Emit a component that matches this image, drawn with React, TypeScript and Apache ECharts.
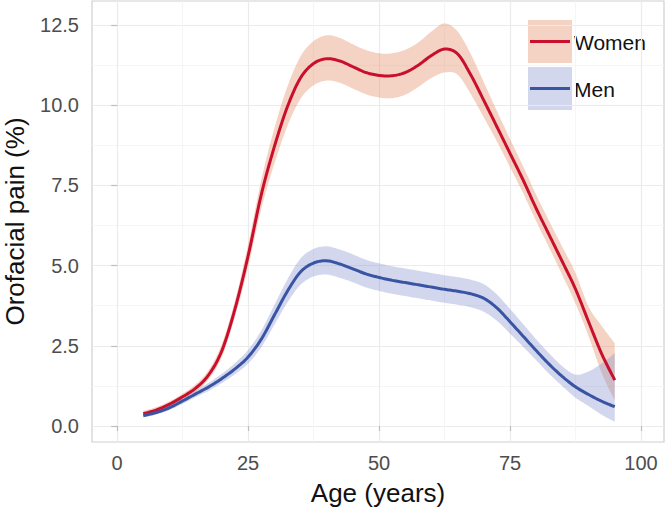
import React, { useEffect, useRef } from "react";
import * as echarts from "echarts";

const ages = [5, 7.5, 10, 12.5, 15, 17.5, 20, 22.5, 25, 27.5, 30, 32.5, 35, 37.5, 40, 42.5, 45, 47.5, 50, 52.5, 55, 57.5, 60, 62.5, 65, 67.5, 70, 72.5, 75, 77.5, 80, 82.5, 85, 87.5, 90, 92.5, 95];

const womenMean = [0.38, 0.5, 0.68, 0.91, 1.18, 1.6, 2.35, 3.65, 5.3, 7.2, 8.7, 9.95, 10.85, 11.3, 11.45, 11.38, 11.2, 11.02, 10.93, 10.92, 11.02, 11.25, 11.55, 11.75, 11.6, 10.95, 10.15, 9.33, 8.5, 7.67, 6.78, 5.95, 5.12, 4.27, 3.25, 2.25, 1.43];
const womenLower = [0.31, 0.42, 0.6, 0.82, 1.07, 1.46, 2.16, 3.41, 4.96, 6.76, 8.17, 9.35, 10.2, 10.62, 10.77, 10.7, 10.52, 10.34, 10.24, 10.22, 10.33, 10.57, 10.85, 11.02, 10.95, 10.35, 9.62, 8.87, 8.07, 7.26, 6.38, 5.55, 4.7, 3.82, 2.8, 1.65, 0.79];
const womenUpper = [0.47, 0.59, 0.77, 1.01, 1.3, 1.75, 2.56, 3.91, 5.66, 7.66, 9.27, 10.58, 11.52, 12.0, 12.18, 12.1, 11.9, 11.72, 11.62, 11.62, 11.73, 11.96, 12.3, 12.55, 12.3, 11.6, 10.72, 9.82, 8.95, 8.1, 7.21, 6.38, 5.58, 4.77, 3.72, 3.12, 2.58];

const menMean = [0.32, 0.42, 0.57, 0.78, 1.0, 1.22, 1.48, 1.78, 2.15, 2.7, 3.45, 4.2, 4.8, 5.08, 5.15, 5.05, 4.9, 4.74, 4.63, 4.54, 4.47, 4.4, 4.33, 4.26, 4.2, 4.12, 3.98, 3.68, 3.25, 2.8, 2.35, 1.92, 1.54, 1.22, 0.98, 0.77, 0.6];
const menLower = [0.27, 0.36, 0.5, 0.69, 0.9, 1.1, 1.34, 1.61, 1.95, 2.45, 3.15, 3.85, 4.4, 4.66, 4.72, 4.62, 4.48, 4.32, 4.21, 4.12, 4.05, 3.98, 3.91, 3.84, 3.78, 3.7, 3.56, 3.28, 2.88, 2.47, 2.05, 1.62, 1.24, 0.88, 0.62, 0.35, 0.13];
const menUpper = [0.38, 0.49, 0.65, 0.88, 1.11, 1.35, 1.63, 1.96, 2.37, 2.97, 3.77, 4.57, 5.22, 5.52, 5.6, 5.5, 5.35, 5.18, 5.07, 4.98, 4.91, 4.84, 4.77, 4.7, 4.64, 4.56, 4.42, 4.1, 3.65, 3.18, 2.7, 2.26, 1.86, 1.6, 1.7, 1.95, 2.27];

const xTicks = [0, 25, 50, 75, 100];
const xMinorTicks = [12.5, 37.5, 62.5, 87.5];
const yTicks = [0, 2.5, 5, 7.5, 10, 12.5];
const yMinorTicks = [1.25, 3.75, 6.25, 8.75, 11.25];

const legendNames = ["Women", "Men"];

const FONT = "'Liberation Sans', Arial, Helvetica, sans-serif";
const RED = "#C8102E";
const BLUE = "#3A54A4";
const WOMEN_FILL = "rgba(228,140,100,0.38)";
const MEN_FILL = "rgba(130,140,205,0.35)";

// Catmull-Rom smoothing of already-projected pixel points (rendering only)
function smoothPts(pts: number[][], seg = 10): number[][] {
  const out: number[][] = [];
  const n = pts.length;
  for (let i = 0; i < n - 1; i++) {
    const p0 = pts[Math.max(i - 1, 0)];
    const p1 = pts[i];
    const p2 = pts[i + 1];
    const p3 = pts[Math.min(i + 2, n - 1)];
    for (let s = 0; s < seg; s++) {
      const t = s / seg;
      const t2 = t * t;
      const t3 = t2 * t;
      const f = (k: number) =>
        0.5 *
        (2 * p1[k] +
          (-p0[k] + p2[k]) * t +
          (2 * p0[k] - 5 * p1[k] + 4 * p2[k] - p3[k]) * t2 +
          (-p0[k] + 3 * p1[k] - 3 * p2[k] + p3[k]) * t3);
      out.push([f(0), f(1)]);
    }
  }
  out.push(pts[n - 1]);
  return out;
}

function bandSeries(name: string, lo: number[], up: number[], fill: string) {
  return {
    type: "custom",
    name,
    silent: true,
    data: ages.map((a, i) => [a, lo[i], up[i]]),
    encode: { x: 0, y: [1, 2] },
    renderItem: (params: any, api: any) => {
      if (params.dataIndex !== 0) return null;
      const upper = smoothPts(ages.map((a, i) => api.coord([a, up[i]])));
      const lower = smoothPts(ages.map((a, i) => api.coord([a, lo[i]])));
      return {
        type: "polygon",
        shape: { points: upper.concat(lower.reverse()) },
        style: { fill, stroke: "none" },
      };
    },
  };
}

function lineSeries(name: string, vals: number[], color: string) {
  return {
    type: "custom",
    name,
    silent: true,
    data: ages.map((a, i) => [a, vals[i]]),
    encode: { x: 0, y: 1 },
    renderItem: (params: any, api: any) => {
      if (params.dataIndex !== 0) return null;
      const pts = smoothPts(ages.map((a, i) => api.coord([a, vals[i]])));
      return {
        type: "polyline",
        shape: { points: pts },
        style: { stroke: color, lineWidth: 3, fill: "none", lineJoin: "round", lineCap: "butt" },
      };
    },
  };
}

export default function App() {
  const ref = useRef<HTMLDivElement>(null);
  useEffect(() => {
    if (!ref.current) return;
    const chart = echarts.init(ref.current, undefined, { renderer: "svg" });
    const majorX = {
      type: "value",
      min: -4.8,
      max: 104.4,
      name: "Age (years)",
      nameLocation: "middle",
      nameGap: 38,
      nameTextStyle: { fontSize: 26, color: "#111", fontFamily: FONT },
      axisLine: { show: false },
      axisTick: { show: true, length: 5, customValues: xTicks, lineStyle: { color: "#BDBDBD", width: 1.2 } },
      axisLabel: { customValues: xTicks, fontSize: 20, color: "#4D4D4D", margin: 11, fontFamily: FONT },
      splitLine: { show: true, lineStyle: { color: "#EBEBEB", width: 1.2 } },
    };
    const minorX = {
      type: "value",
      min: -4.8,
      max: 104.4,
      position: "bottom",
      axisLine: { show: false },
      axisTick: { show: false, customValues: xMinorTicks },
      axisLabel: { show: false, customValues: xMinorTicks },
      splitLine: { show: true, lineStyle: { color: "#F5F5F5", width: 1 } },
    };
    const majorY = {
      type: "value",
      min: -0.5,
      max: 13.25,
      name: "Orofacial pain (%)",
      nameLocation: "middle",
      nameGap: 64,
      nameTextStyle: { fontSize: 26, color: "#111", fontFamily: FONT },
      axisLine: { show: false },
      axisTick: { show: true, length: 6, customValues: yTicks, lineStyle: { color: "#BDBDBD", width: 1.2 } },
      axisLabel: {
        customValues: yTicks,
        fontSize: 20,
        color: "#4D4D4D",
        margin: 13,
        fontFamily: FONT,
        formatter: (v: number) => v.toFixed(1),
      },
      splitLine: { show: true, lineStyle: { color: "#EBEBEB", width: 1.2 } },
    };
    const minorY = {
      type: "value",
      min: -0.5,
      max: 13.25,
      position: "left",
      axisLine: { show: false },
      axisTick: { show: false, customValues: yMinorTicks },
      axisLabel: { show: false, customValues: yMinorTicks },
      splitLine: { show: true, lineStyle: { color: "#F5F5F5", width: 1 } },
    };
    const legendY = [20, 67];
    const legendLine = [RED, BLUE];
    const legendFill = [WOMEN_FILL, MEN_FILL];
    const graphic: any[] = [];
    legendNames.forEach((n, i) => {
      graphic.push({ type: "rect", x: 528, y: legendY[i], shape: { x: 0, y: 0, width: 44, height: 43 }, style: { fill: legendFill[i] } });
      graphic.push({
        type: "line",
        shape: { x1: 530, y1: legendY[i] + 21.5, x2: 570, y2: legendY[i] + 21.5 },
        style: { stroke: legendLine[i], lineWidth: 3 },
      });
      graphic.push({
        type: "text",
        x: 574,
        y: legendY[i] + 22,
        style: { text: n, fontSize: 21, fontFamily: FONT, fill: "#111", verticalAlign: "middle" },
      });
    });
    chart.setOption({
      animation: false,
      backgroundColor: "#fff",
      grid: {
        left: 92,
        right: 3,
        top: 1,
        bottom: 69,
        show: true,
        borderColor: "#CFCFCF",
        borderWidth: 1.2,
        containLabel: false,
        outerBoundsMode: "none",
      },
      xAxis: [majorX, minorX],
      yAxis: [majorY, minorY],
      series: [
        bandSeries("WomenCI", womenLower, womenUpper, WOMEN_FILL),
        bandSeries("MenCI", menLower, menUpper, MEN_FILL),
        lineSeries("Women", womenMean, RED),
        lineSeries("Men", menMean, BLUE),
      ],
      graphic,
    } as any);
    return () => chart.dispose();
  }, []);
  return <div ref={ref} style={{ position: "absolute", left: 0, top: 0, width: 667, height: 511 }} />;
}
